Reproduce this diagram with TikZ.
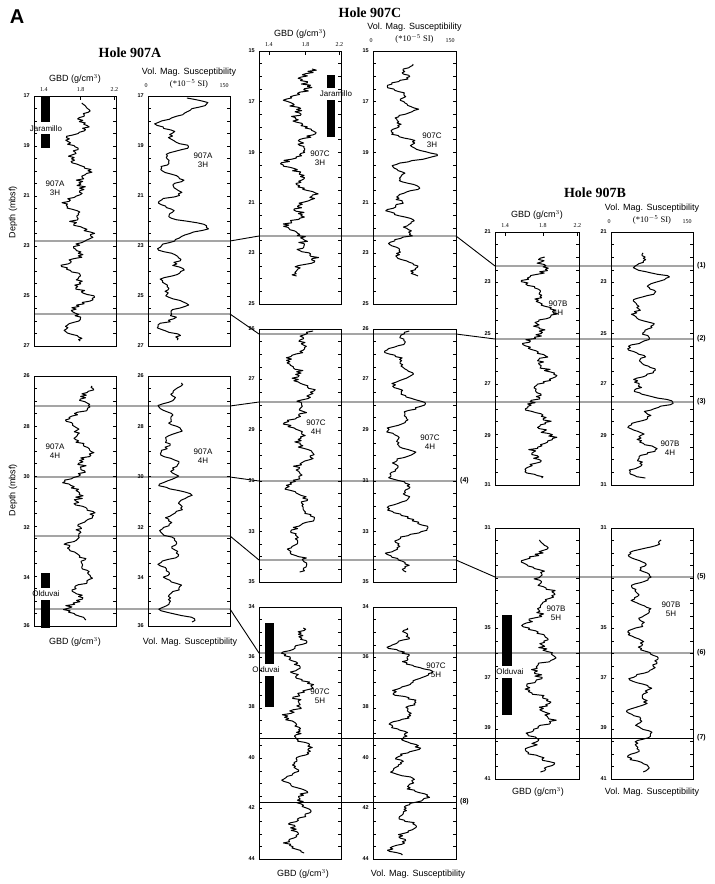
\documentclass[tikz,border=0pt]{standalone}
\usepackage{fontspec}
\setmainfont{Liberation Sans}
\newfontfamily\titlefont{Liberation Serif}
\begin{document}
\begin{tikzpicture}[x=1pt,y=-1pt,
  boxline/.style={line width=0.9pt},
  curve/.style={line width=1pt,line join=round},
  corr/.style={line width=0.9pt},
  dlab/.style={font=\fontsize{5.5}{6}\selectfont\bfseries,inner sep=0pt},
  tlab/.style={font=\fontsize{6}{7}\selectfont\titlefont,inner sep=0pt},
  axlab/.style={font=\fontsize{9}{10}\selectfont,inner sep=0pt},
  corelab/.style={font=\fontsize{8}{9}\selectfont,align=center,inner sep=0pt},
  holetitle/.style={font=\fontsize{14}{15}\selectfont\titlefont\bfseries,inner sep=0pt},
  numlab/.style={font=\fontsize{7}{8}\selectfont\bfseries,inner sep=0pt,anchor=west},
  bar/.style={fill=black,draw=none}]
\useasboundingbox (0,0) rectangle (715,884);

\newcommand\logbox[4]{%
  \draw[boxline] (#1,#3) rectangle (#2,#4);
  \foreach \i in {1,...,19}{%
    \pgfmathsetmacro\yy{#3+(#4-#3)*\i/20}
    \draw[line width=0.6pt] (#1,\yy) -- ++(3,0) (#2,\yy) -- ++(-3,0);}
}
\newcommand\dlabels[2]{\foreach \d/\y in {#2} \node[dlab,anchor=east] at (#1-4,\y) {\d};}
\newcommand\gbdtop[3]{% x1 x2 ytop
  \foreach \f/\v in {0.12/1.4,0.57/1.8,0.98/2.2}{%
    \draw[line width=0.6pt] ({#1+(#2-#1)*\f},#3) -- ++(0,4);
    \node[tlab] at ({#1+(#2-#1)*\f},#3-6) {\v};}
  \node[axlab] at ({(#1+#2)/2},#3-17) {GBD (g/cm$^3$)};}
\newcommand\susctop[3]{%
  \node[tlab] at (#1-2,#3-10) {0};
  \node[tlab] at (#2-6,#3-10) {150};
  \node[axlab] at ({(#1+#2)/2},#3-24) {Vol. Mag. Susceptibility};
  \node[axlab,font=\fontsize{8.5}{9}\selectfont\titlefont] at ({(#1+#2)/2},#3-12) {(*10$^{-5}$ SI)};}
% GBD-like: moderate wiggles
\newcommand\wig[6]{%
  \pgfmathsetseed{#5}
  \draw[curve] plot[domain=0:(#4-#3), samples=#6, variable=\t]
   ({#1 + #2*(0.5*sin(\t*6+#5) + 0.35*sin(\t*17+2*#5) + 0.25*rand)}, {\t+#3});}
% susceptibility-like: wiggles with spikes to the right
\newcommand\swig[6]{%
  \pgfmathsetseed{#5}
  \draw[curve] plot[domain=0:(#4-#3), samples=#6, variable=\t]
   ({#1 + #2*(0.45*sin(\t*9+#5) + 0.3*sin(\t*23+2*#5) + 0.15*rand
      + 1.3*(max(0,sin(\t*2.9+3*#5)))^16)}, {\t+#3});}

% title letter
\node[font=\fontsize{20}{20}\selectfont\bfseries,inner sep=0pt] (A) at (17,17) {A};

% Hole titles
\node[holetitle] (tA) at (130,53) {Hole 907A};
\node[holetitle] (tC) at (370,13) {Hole 907C};
\node[holetitle] (tB) at (595,193) {Hole 907B};

% ---------- Hole 907A ----------
\logbox{34}{116}{96}{346}
\logbox{148}{230}{96}{346}
\dlabels{34}{17/96,19/146,21/196,23/246,25/296,27/346}
\dlabels{148}{17/96,19/146,21/196,23/246,25/296,27/346}
\gbdtop{34}{116}{96}
\susctop{148}{230}{96}
\logbox{34}{116}{376}{626}
\logbox{148}{230}{376}{626}
\dlabels{34}{26/376,28/427,30/477,32/528,34/578,36/626}
\dlabels{148}{26/376,28/427,30/477,32/528,34/578,36/626}
\node[axlab] at (75,642) {GBD (g/cm$^3$)};
\node[axlab] at (190,642) {Vol. Mag. Susceptibility};
\node[axlab,rotate=90] at (13,212) {Depth (mbsf)};
\node[axlab,rotate=90] at (13,490) {Depth (mbsf)};

\fill[bar] (41,96) rectangle (50,122);
\fill[bar] (41,134) rectangle (50,148);
\node[corelab] at (46,129) {Jaramillo};
\fill[bar] (41,573) rectangle (50,588);
\fill[bar] (41,600) rectangle (50,628);
\node[corelab] at (46,594) {Olduvai};

\wig{78}{16}{103}{341}{11}{180}
\swig{172}{20}{98}{340}{23}{160}
\wig{80}{16}{386}{620}{37}{180}
\swig{170}{16}{383}{622}{41}{150}
\node[corelab] at (55,188) {907A\\3H};
\node[corelab] at (203,160) {907A\\3H};
\node[corelab] at (55,451) {907A\\4H};
\node[corelab] at (203,456) {907A\\4H};

% ---------- Hole 907C ----------
\logbox{259}{341}{51}{304}
\logbox{373}{456}{51}{304}
\dlabels{259}{15/51,17/102,19/153,21/203,23/253,25/304}
\dlabels{373}{15/51,17/102,19/153,21/203,23/253,25/304}
\gbdtop{259}{341}{51}
\susctop{373}{456}{51}
\logbox{259}{341}{329}{582}
\logbox{373}{456}{329}{582}
\dlabels{259}{26/329,27/379,29/430,31/481,33/532,35/582}
\dlabels{373}{26/329,27/379,29/430,31/481,33/532,35/582}
\logbox{259}{341}{607}{859}
\logbox{373}{456}{607}{859}
\dlabels{259}{34/607,36/657,38/707,40/758,42/808,44/859}
\dlabels{373}{34/607,36/657,38/707,40/758,42/808,44/859}
\node[axlab] at (303,874) {GBD (g/cm$^3$)};
\node[axlab] at (418,874) {Vol. Mag. Susceptibility};

\fill[bar] (327,75) rectangle (335,88);
\fill[bar] (327,100) rectangle (335,137);
\node[corelab] at (336,94) {Jaramillo};
\fill[bar] (265,623) rectangle (274,664);
\fill[bar] (265,676) rectangle (274,707);
\node[corelab] at (266,670) {Olduvai};

\wig{300}{18}{69}{276}{53}{180}
\swig{402}{20}{64}{276}{61}{170}
\wig{300}{16}{331}{572}{71}{190}
\swig{400}{18}{331}{572}{83}{180}
\wig{298}{16}{628}{853}{97}{180}
\swig{404}{20}{628}{855}{103}{190}
\node[corelab] at (320,158) {907C\\3H};
\node[corelab] at (432,140) {907C\\3H};
\node[corelab] at (316,427) {907C\\4H};
\node[corelab] at (430,442) {907C\\4H};
\node[corelab] at (320,696) {907C\\5H};
\node[corelab] at (436,670) {907C\\5H};

% ---------- Hole 907B ----------
\logbox{495}{579}{232}{485}
\logbox{611}{693}{232}{485}
\dlabels{495}{21/232,23/282,25/334,27/384,29/436,31/485}
\dlabels{611}{21/232,23/282,25/334,27/384,29/436,31/485}
\gbdtop{495}{579}{232}
\susctop{611}{693}{232}
\logbox{495}{579}{528}{779}
\logbox{611}{693}{528}{779}
\dlabels{495}{31/528,35/628,37/678,39/728,41/779}
\dlabels{611}{31/528,35/628,37/678,39/728,41/779}
\node[axlab] at (538,792) {GBD (g/cm$^3$)};
\node[axlab] at (652,792) {Vol. Mag. Susceptibility};

\fill[bar] (502,615) rectangle (512,666);
\fill[bar] (502,678) rectangle (512,715);
\node[corelab] at (510,672) {Olduvai};

\wig{540}{18}{257}{478}{113}{180}
\swig{642}{18}{253}{478}{127}{170}
\wig{540}{18}{540}{772}{131}{180}
\swig{640}{16}{540}{772}{149}{170}
\node[corelab] at (558,308) {907B\\4H};
\node[corelab] at (670,448) {907B\\4H};
\node[corelab] at (556,613) {907B\\5H};
\node[corelab] at (671,609) {907B\\5H};

% ---------- correlation lines ----------
\coordinate (a1) at (34,241); \coordinate (a2) at (230,241);
\coordinate (a3) at (259,236); \coordinate (a4) at (456,236);
\coordinate (a5) at (495,266); \coordinate (a6) at (693,266);
\draw[corr] (a1)--(a2)--(a3)--(a4)--(a5)--(a6);
\node[numlab] (n1) at (697,266) {(1)};
\coordinate (b1) at (34,314); \coordinate (b2) at (230,314);
\coordinate (b3) at (259,334); \coordinate (b4) at (456,334);
\coordinate (b5) at (495,339); \coordinate (b6) at (693,339);
\draw[corr] (b1)--(b2)--(b3)--(b4)--(b5)--(b6);
\node[numlab] (n2) at (697,339) {(2)};
\coordinate (c1) at (34,406); \coordinate (c2) at (230,406);
\coordinate (c3) at (259,402); \coordinate (c4) at (693,402);
\draw[corr] (c1)--(c2)--(c3)--(c4);
\node[numlab] (n3) at (697,402) {(3)};
\coordinate (d1) at (34,477); \coordinate (d2) at (230,477);
\coordinate (d3) at (259,481); \coordinate (d4) at (456,481);
\draw[corr] (d1)--(d2)--(d3)--(d4);
\node[numlab] (n4) at (460,481) {(4)};
\coordinate (e1) at (34,536); \coordinate (e2) at (230,536);
\coordinate (e3) at (259,560); \coordinate (e4) at (456,560);
\coordinate (e5) at (495,577); \coordinate (e6) at (693,577);
\draw[corr] (e1)--(e2)--(e3)--(e4)--(e5)--(e6);
\node[numlab] (n5) at (697,577) {(5)};
\coordinate (f1) at (34,609); \coordinate (f2) at (230,609);
\coordinate (f3) at (259,653); \coordinate (f4) at (693,653);
\draw[corr] (f1)--(f2)--(f3)--(f4);
\node[numlab] (n6) at (697,653) {(6)};
\coordinate (g1) at (259,738); \coordinate (g2) at (693,738);
\draw[corr] (g1)--(g2);
\node[numlab] (n7) at (697,738) {(7)};
\coordinate (h1) at (259,802); \coordinate (h2) at (456,802);
\draw[corr] (h1)--(h2);
\node[numlab] (n8) at (460,802) {(8)};
\end{tikzpicture}
\end{document}
